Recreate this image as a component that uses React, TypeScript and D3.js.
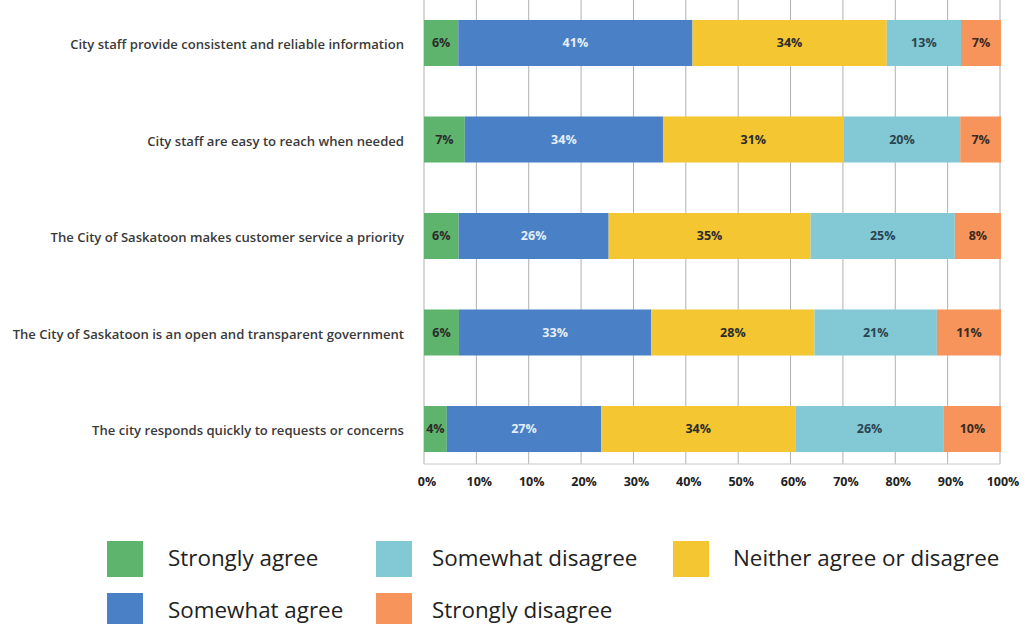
import React from "react";
import * as d3 from "d3";

const categories = [
  "City staff provide consistent and reliable information",
  "City staff are easy to reach when needed",
  "The City of Saskatoon makes customer service a priority",
  "The City of Saskatoon is an open and transparent government",
  "The city responds quickly to requests or concerns",
];
const seriesNames = [
  "Strongly agree",
  "Somewhat agree",
  "Neither agree or disagree",
  "Somewhat disagree",
  "Strongly disagree",
];
const stronglyAgree = [6, 7, 6, 6, 4];
const somewhatAgree = [41, 34, 26, 33, 27];
const neither = [34, 31, 35, 28, 34];
const somewhatDisagree = [13, 20, 25, 21, 26];
const stronglyDisagree = [7, 7, 8, 11, 10];
const tickLabels = ["0%", "10%", "10%", "20%", "30%", "40%", "50%", "60%", "70%", "80%", "90%", "100%"];

const colors = ["#5fb46d", "#4a80c5", "#f3c632", "#82c9d5", "#f6945b"];
const textColors = ["#2b2b2b", "#e6eef8", "#2b2b2b", "#2a4450", "#3a2a20"];

// legend arrangement: [seriesIndex, col, row]
const legendLayout = [
  [0, 0, 0],
  [3, 1, 0],
  [2, 2, 0],
  [1, 0, 1],
  [4, 1, 1],
];

export default function App() {
  const W = 1026;
  const H = 624;
  const x0 = 424;
  const x1 = 1001;
  const series = [stronglyAgree, somewhatAgree, neither, somewhatDisagree, stronglyDisagree];

  const y = d3
    .scaleBand<string>()
    .domain(categories)
    .range([-5.25, 477.25])
    .paddingInner(0.523)
    .paddingOuter(0.2615);

  const gx = d3.scaleLinear().domain([0, tickLabels.length - 1]).range([x0, x1 - 1]);

  const rows = categories.map((c, i) => {
    const vals = series.map((s) => s[i]);
    const total = d3.sum(vals);
    const xs = d3.scaleLinear().domain([0, total]).range([x0, x1]);
    let acc = 0;
    const segs = vals.map((v, k) => {
      const start = acc;
      acc += v;
      return { k, v, a: xs(start), b: xs(acc) };
    });
    return { c, segs };
  });

  const legendCols = [107, 376, 673];
  const legendRows = [541, 593];
  const legendTextOffset = [61, 56, 60];

  return (
    <svg
      width={W}
      height={H}
      style={{ position: "absolute", left: 0, top: 0, background: "#fff" }}
    >
      <rect width={W} height={H} fill="#fff" />
      {/* gridlines */}
      {tickLabels.map((t, i) => (
        <line
          key={"g" + i}
          x1={gx(i)}
          x2={gx(i)}
          y1={0}
          y2={464}
          stroke="#b0b0b0"
          strokeWidth={1}
        />
      ))}
      <line x1={x0} x2={x1 - 1} y1={464} y2={464} stroke="#c8c8c8" strokeWidth={1} />
      {/* bars */}
      {rows.map((r) => (
        <g key={r.c}>
          {r.segs.map((s) => (
            <rect
              key={s.k}
              x={s.a}
              y={y(r.c)}
              width={s.b - s.a}
              height={y.bandwidth()}
              fill={colors[s.k]}
            />
          ))}
          {r.segs.map((s) => (
            <text
              key={"t" + s.k}
              x={(s.a + s.b) / 2}
              y={(y(r.c) as number) + y.bandwidth() / 2}
              dy="0.35em"
              textAnchor="middle"
              fontFamily="'Open Sans', sans-serif"
              fontWeight={700}
              fontSize={12.5}
              fill={textColors[s.k]}
            >
              {s.v + "%"}
            </text>
          ))}
          <text
            x={404}
            y={(y(r.c) as number) + y.bandwidth() / 2 + 1.5}
            dy="0.35em"
            textAnchor="end"
            fontFamily="'Open Sans', sans-serif"
            fontWeight={600}
            fontSize={13.1}
            fill="#3a3a3a"
          >
            {r.c}
          </text>
        </g>
      ))}
      {/* x tick labels */}
      {tickLabels.map((t, i) => (
        <text
          key={"x" + i}
          x={gx(i) + 3}
          y={482}
          dy="0.35em"
          textAnchor="middle"
          fontFamily="'Open Sans', sans-serif"
          fontWeight={700}
          fontSize={12.5}
          fill="#222"
        >
          {t}
        </text>
      ))}
      {/* legend */}
      {legendLayout.map(([si, col, row]) => (
        <g key={"l" + si}>
          <rect
            x={legendCols[col]}
            y={legendRows[row]}
            width={36}
            height={36}
            fill={colors[si]}
          />
          <text
            x={legendCols[col] + legendTextOffset[col]}
            y={legendRows[row] + 17}
            dy="0.35em"
            fontFamily="'Open Sans', sans-serif"
            fontWeight={500}
            fontSize={22.4}
            fill="#222"
          >
            {seriesNames[si]}
          </text>
        </g>
      ))}
    </svg>
  );
}
